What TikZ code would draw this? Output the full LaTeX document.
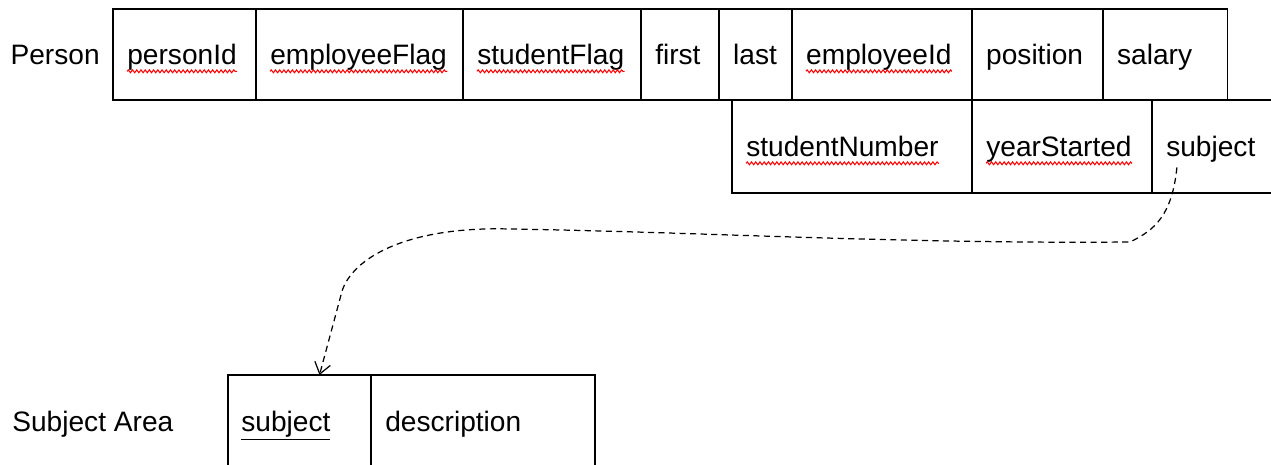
\documentclass[tikz,border=0pt]{standalone}
\usepackage{fontspec}
\setmainfont{Liberation Sans}
\usetikzlibrary{arrows.meta,positioning,decorations.pathmorphing}

\begin{document}
\begin{tikzpicture}[
    x=0.02cm, y=-0.02cm,
    font=\fontsize{16}{19}\selectfont,
    cell/.style={draw, line width=0.8pt, outer sep=0pt, inner sep=0pt, minimum height=1.82cm, anchor=north west},
    txt/.style={inner sep=0pt, anchor=base west},
    spell/.style={red, line width=0.6pt, decorate, decoration={snake, amplitude=0.8pt, segment length=2.4pt}},
    fk/.style={dashed, dash pattern=on 3.5pt off 2.5pt, line width=0.7pt, -{Straight Barb[length=2.2mm, width=3.2mm]}},
]
\useasboundingbox (0,0) rectangle (1271,465);
\clip (0,0) rectangle (1271,465);

% Person, first row
\node[cell, minimum width=2.86cm] (pid) at (113,9) {};
\node[cell, minimum width=4.14cm, right=0pt of pid] (eflag) {};
\node[cell, minimum width=3.56cm, right=0pt of eflag] (sflag) {};
\node[cell, minimum width=1.56cm, right=0pt of sflag] (first) {};
\node[cell, minimum width=1.46cm, right=0pt of first] (last) {};
\node[cell, minimum width=3.60cm, right=0pt of last] (eid) {};
\node[cell, minimum width=2.62cm, right=0pt of eid] (pos) {};
\node[cell, minimum width=2.50cm, right=0pt of pos] (salary) {};

\node[txt] (pid-t) at ([shift={(14,10.5)}]pid.west) {personId};
\node[txt] (eflag-t) at ([shift={(14,10.5)}]eflag.west) {employeeFlag};
\node[txt] (sflag-t) at ([shift={(14,10.5)}]sflag.west) {studentFlag};
\node[txt] (first-t) at ([shift={(14,10.5)}]first.west) {first};
\node[txt] (last-t) at ([shift={(14,10.5)}]last.west) {last};
\node[txt] (eid-t) at ([shift={(14,10.5)}]eid.west) {employeeId};
\node[txt] (pos-t) at ([shift={(14,10.5)}]pos.west) {position};
\node[txt] (salary-t) at ([shift={(14,10.5)}]salary.west) {salary};
\node[txt, anchor=base east] (person) at ([shift={(-13,10.5)}]pid.west) {Person};

% Person, second row
\node[cell, minimum width=4.80cm, minimum height=1.86cm] (snum) at (732,100) {};
\node[cell, minimum width=3.60cm, minimum height=1.86cm, right=0pt of snum] (year) {};
\node[cell, minimum width=3.00cm, minimum height=1.86cm, right=0pt of year] (ssubj) {};

\node[txt] (snum-t) at ([shift={(14,10.5)}]snum.west) {studentNumber};
\node[txt] (year-t) at ([shift={(14,10.5)}]year.west) {yearStarted};
\node[txt] (ssubj-t) at ([shift={(14,10.5)}]ssubj.west) {subject};

% Subject Area
\node[cell, minimum width=2.86cm, minimum height=1.9cm] (asubj) at (228,375) {};
\node[cell, minimum width=4.48cm, minimum height=1.9cm, right=0pt of asubj] (descr) {};

\node[txt] (asubj-t) at ([shift={(13,9)}]asubj.west) {\underline{subject}};
\node[txt] (descr-t) at ([shift={(14,9)}]descr.west) {description};
\node[txt] (area) at ([shift={(-216,9)}]asubj.west) {Subject Area};

% spell check marks
\foreach \w in {pid-t, eflag-t, sflag-t, eid-t, snum-t, year-t}
    \draw[spell] ([yshift=-3.6pt]\w.base west) -- ([yshift=-3.6pt]\w.base east);

\draw[fk] ([shift={(-50,21)}]ssubj.center) .. controls (1172,215) and (1155,230) .. (1130,242)
    .. controls (900,244) and (700,232) .. (510,229)
    .. controls (400,226) and (348,262) .. (341,295)
    -- ([xshift=0.4cm]asubj.north);
\end{tikzpicture}
\end{document}
